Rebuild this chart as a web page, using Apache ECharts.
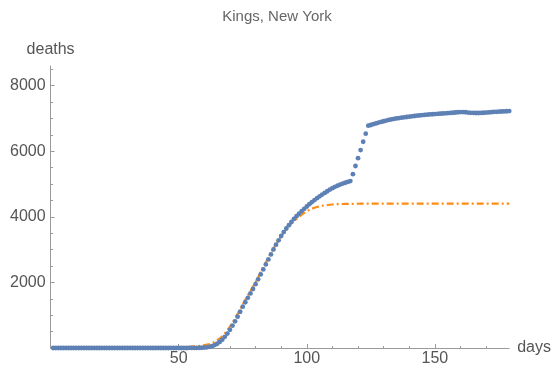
<!DOCTYPE html>
<html>
<head>
<meta charset="utf-8">
<script src="https://cdn.jsdelivr.net/npm/echarts@6/dist/echarts.min.js"></script>
<style>
html,body{margin:0;padding:0;background:#fff;}
#chart{width:554px;height:371px;}
</style>
</head>
<body>
<div id="chart"></div>
<script>
// ---- data ----
const titleText = 'Kings, New York';
const xName = 'days';
const yName = 'deaths';
const xTickLabels = [50, 100, 150];
const yTickLabels = [2000, 4000, 6000, 8000];

// observed deaths, day 1..179
const deaths = [
  0,0,0,0,0,0,0,0,0,0, 0,0,0,0,0,0,0,0,0,0,
  0,0,0,0,0,0,0,0,0,0, 0,0,0,0,0,0,0,0,0,0,
  0,0,0,0,0,0,0,0,0,0, 0,0,0,1,1,2,3,5,8,13,
  22,36,57,88,130,185,255,340,440,555,
  680,815,955,1105,1260,1395,1530,1665,1800,1945,
  2095,2245,2395,2550,2700,2855,3005,3150,3285,3415,
  3535,3645,3745,3845,3935,4020,4100,4175,4245,4315,
  4385,4450,4510,4570,4625,4680,4730,4780,4830,4875,
  4915,4950,4985,5015,5040,5065,5090,5300,5550,5790,
  6035,6290,6535,6780,6800,6825,6850,6875,6895,6915,
  6935,6955,6970,6985,7000,7012,7024,7035,7045,7055,
  7065,7075,7085,7093,7100,7108,7115,7122,7128,7134,
  7140,7146,7152,7157,7162,7168,7175,7182,7190,7195,
  7195,7190,7180,7172,7168,7166,7166,7170,7175,7180,
  7185,7192,7198,7204,7208,7212,7216,7220,7224
];

// fitted curve, day 1..179
const fitted = [
  0,0,0,0,0,0,0,0,0,0, 0,0,0,0,0,0,0,0,0,0,
  0,0,0,0,0,0,0,0,0,0, 1,1,1,1,1,1,2,2,2,3,
  3,3,4,4,5,5,6,7,8,10, 14,19,25,32,40,48,56,64,74,86,
  102,124,152,188,232,290,360,445,540,650,
  770,900,1040,1185,1330,1470,1605,1740,1875,2015,
  2160,2305,2455,2605,2755,2900,3040,3170,3295,3410,
  3520,3620,3712,3795,3870,3940,4005,4065,4120,4170,
  4212,4248,4278,4302,4322,4338,4351,4361,4369,4376,
  4381,4385,4388,4391,4393,4395,4396,4397,4398,4399,
  4400,4400,4400,4400,4400,4400,4400,4400,4400,4400,
  4400,4400,4400,4400,4400,4400,4400,4400,4400,4400,
  4400,4400,4400,4400,4400,4400,4400,4400,4400,4400,
  4400,4400,4400,4400,4400,4400,4400,4400,4400,4400,
  4400,4400,4400,4400,4400,4400,4400,4400,4400,4400,
  4400,4400,4400,4400,4400,4400,4400,4400,4400
];

const days = deaths.map((_, i) => i + 1);

// ---- chart ----
const X_MIN = 0, X_MAX = 179, Y_MIN = 0, Y_MAX = 8600;
const minorX = [];
for (let v = 10; v < X_MAX; v += 10) if (v % 50 !== 0) minorX.push(v);
const minorY = [];
for (let v = 500; v < Y_MAX; v += 500) if (v % 2000 !== 0) minorY.push(v);

const FONT = '"Liberation Sans", Arial, sans-serif';
const AX = '#9a9a9a';
const TXT = '#555';
const plain = v => String(v);

const chart = echarts.init(document.getElementById('chart'), null, {renderer: 'canvas'});
chart.setOption({
  animation: false,
  backgroundColor: '#fff',
  textStyle: {fontFamily: FONT},
  title: {
    text: titleText, left: 'center', top: 4,
    textStyle: {fontSize: 15, fontWeight: 'normal', color: '#666', fontFamily: FONT}
  },
  grid: {left: 50.6, right: 44, top: 66, bottom: 23},
  xAxis: [
    {
      type: 'value', min: X_MIN, max: X_MAX,
      name: xName, nameLocation: 'end', nameGap: 8,
      nameTextStyle: {fontSize: 16, color: TXT, fontFamily: FONT},
      axisLine: {show: true, onZero: false, lineStyle: {color: AX, width: 1}},
      axisTick: {show: true, inside: true, length: 4, customValues: xTickLabels, lineStyle: {color: AX}},
      axisLabel: {show: true, customValues: xTickLabels, formatter: plain, fontSize: 16, color: TXT, margin: 3, fontFamily: FONT},
      splitLine: {show: false}
    },
    {
      type: 'value', min: X_MIN, max: X_MAX, position: 'bottom', offset: 0,
      axisLine: {show: false},
      axisTick: {show: true, inside: true, length: 2, customValues: minorX, lineStyle: {color: AX}},
      axisLabel: {show: false},
      splitLine: {show: false}
    }
  ],
  yAxis: [
    {
      type: 'value', min: Y_MIN, max: Y_MAX,
      name: yName, nameLocation: 'end', nameGap: 8,
      nameTextStyle: {fontSize: 16, color: TXT, fontFamily: FONT},
      axisLine: {show: true, onZero: false, lineStyle: {color: AX, width: 1}},
      axisTick: {show: true, inside: true, length: 4, customValues: yTickLabels, lineStyle: {color: AX}},
      axisLabel: {show: true, customValues: yTickLabels, formatter: plain, fontSize: 16, color: TXT, margin: 5, fontFamily: FONT},
      splitLine: {show: false}
    },
    {
      type: 'value', min: Y_MIN, max: Y_MAX, position: 'left', offset: 0,
      axisLine: {show: false},
      axisTick: {show: true, inside: true, length: 2.5, customValues: minorY, lineStyle: {color: AX}},
      axisLabel: {show: false},
      splitLine: {show: false}
    }
  ],
  series: [
    {
      name: 'fit', type: 'line', xAxisIndex: 0, yAxisIndex: 0,
      data: days.map((d, i) => [d, fitted[i]]),
      showSymbol: false, symbol: 'none', smooth: false,
      lineStyle: {color: '#FF8C14', width: 2.2, type: [7, 3, 2, 3], cap: 'butt'},
      z: 2
    },
    {
      name: 'deaths', type: 'scatter', xAxisIndex: 0, yAxisIndex: 0,
      data: days.map((d, i) => [d, deaths[i]]),
      symbol: 'circle', symbolSize: 4.8,
      itemStyle: {color: '#5E81B5', opacity: 1},
      z: 3
    }
  ]
});
</script>
</body>
</html>
